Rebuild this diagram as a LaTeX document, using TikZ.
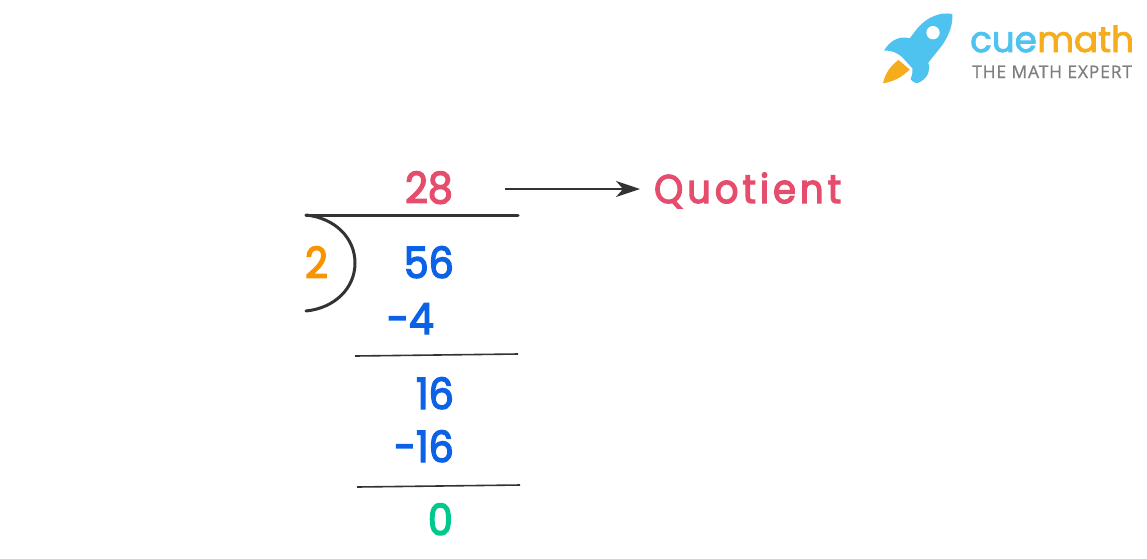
\documentclass[tikz,border=0pt]{standalone}
\usepackage{fontspec}
\usetikzlibrary{arrows.meta}
\setmainfont{Poppins}
\newfontfamily\digitfont{Poppins}[FakeStretch=0.92,FakeBold=3.2]
\newfontfamily\wordfont{Poppins}[FakeStretch=0.92,LetterSpace=10.2,FakeBold=3.2,Ligatures=NoCommon]
\newfontfamily\logofont{Poppins}[FakeBold=2.5]
\newfontfamily\tagfont{Open Sans}[LetterSpace=5,FakeBold=1]
\definecolor{qred}{HTML}{E64C6C}
\definecolor{dblue}{HTML}{0B62E6}
\definecolor{dorange}{HTML}{F79400}
\definecolor{dgreen}{HTML}{00C98D}
\definecolor{inkc}{HTML}{333333}
\definecolor{skyc}{HTML}{4FC3F0}
\definecolor{ambc}{HTML}{F5AC1D}
\definecolor{tagc}{HTML}{7F7F7F}
\tikzset{
  num/.style={anchor=base east,inner sep=0pt,font=\digitfont\fontsize{43}{43}\selectfont},
  rule/.style={inkc,line width=1.6pt},
  mainrule/.style={inkc,line width=3pt,line cap=round},
}
\begin{document}
\begin{tikzpicture}[x=1pt,y=-1pt]
\useasboundingbox (0,0) rectangle (1147,558);
% logo
\begin{scope}[shift={(869,0)},x=0.3333pt,y=-0.3333pt]
\fill[ambc] (42,250) .. controls (48,222) and (62,200) .. (88,180) -- (122,208) .. controls (100,232) and (72,245) .. (42,250) -- cycle;
\fill[skyc] (250,42) .. controls (215,35) and (175,50) .. (145,85) -- (122,115) .. controls (90,105) and (60,125) .. (45,152) .. controls (65,150) and (85,158) .. (100,172) -- (130,205) .. controls (132,218) and (128,228) .. (125,238) .. controls (135,250) and (145,252) .. (155,245) .. controls (178,230) and (185,210) .. (178,188) -- (220,135) .. controls (240,105) and (252,75) .. (250,42) -- cycle;
\fill[white] (192,98) circle[radius=20];
\end{scope}
\node[anchor=base west,inner sep=0pt,text=skyc,font=\logofont\fontsize{35.7}{36}\selectfont] (cue) at (970,52) {cue};
\node[anchor=base west,inner sep=0pt,text=ambc,font=\logofont\fontsize{35.7}{36}\selectfont] (math) at (cue.base east) {math};
\node[anchor=base west,inner sep=0pt,text=tagc,font=\tagfont\fontsize{17.4}{18}\selectfont] (tag) at (972,78) {THE MATH EXPERT};
% numbers
\node[num,text=qred] (q) at (453,203) {28};
\node[num,text=dorange] (d) at (328,278) {2};
\node[num,text=dblue] (n) at (454,278) {56};
\node[num,text=dblue] (s1) at (434,334) {-4};
\node[num,text=dblue] (r1) at (454,409) {16};
\node[num,text=dblue] (s2) at (454,462) {-16};
\node[num,text=dgreen] (z) at (453,535) {0};
\node[anchor=base west,inner sep=0pt,text=qred,font=\wordfont\fontsize{40}{40}\selectfont] (word) at (654,203) {Quotient};
% rules
\coordinate (a1) at (505,189);
\coordinate (a2) at (640,189);
\coordinate (t1) at (306,215);
\coordinate (t2) at (518,215);
\coordinate (b1) at (306,311);
\coordinate (l1a) at (355,356);
\coordinate (l1b) at (518,354);
\coordinate (l2a) at (357,487);
\coordinate (l2b) at (520,485);
\draw[inkc,line width=1.4pt,-{Stealth[length=24pt,width=16pt,inset=7pt]}] (a1) -- (a2);
\draw[mainrule] (t1) -- (t2);
\draw[mainrule] (t1) .. controls (335,218) and (355,238) .. (355,263) .. controls (355,288) and (335,308) .. (b1);
\draw[rule] (l1a) -- (l1b);
\draw[rule] (l2a) -- (l2b);
\end{tikzpicture}
\end{document}
